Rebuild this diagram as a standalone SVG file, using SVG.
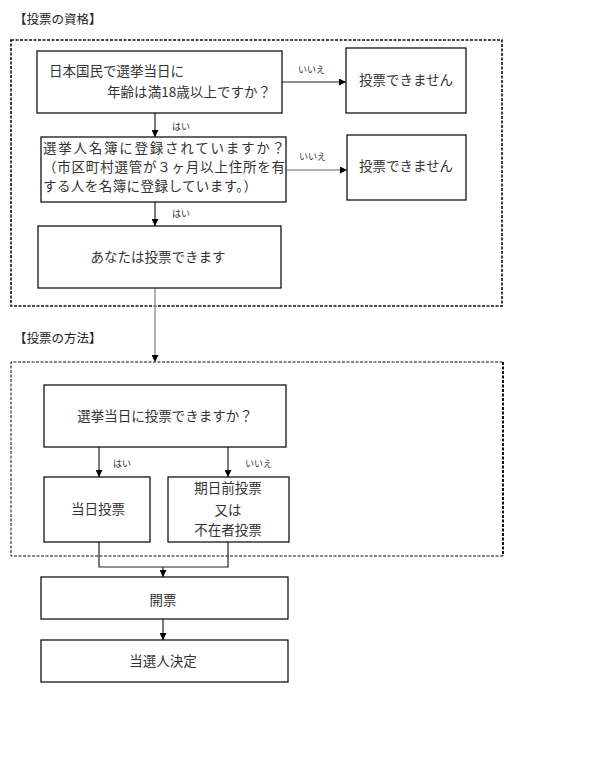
<svg xmlns="http://www.w3.org/2000/svg" width="593" height="769" viewBox="0 0 593 769">
<defs>
<marker id="ah" viewBox="0 0 8 8" refX="8" refY="4" markerWidth="7" markerHeight="7" markerUnits="userSpaceOnUse" orient="auto">
<path d="M0,0 L8,4 L0,8 z" fill="#000"/>
</marker>
<style>
.t{font-family:"Noto Sans CJK JP","Liberation Sans",sans-serif;font-size:13.5px;fill:#333;}
.h{font-family:"Noto Sans CJK JP","Liberation Sans",sans-serif;font-size:12.5px;fill:#222;}
.l{font-family:"Noto Sans CJK JP","Liberation Sans",sans-serif;font-size:9px;fill:#333;}
.b{fill:#fff;stroke:#000;stroke-width:1.2;}
.c{fill:none;stroke:#222;stroke-width:1.2;}
.g{fill:none;stroke:#999;stroke-width:1.5;}
.d{fill:none;stroke:#111;stroke-dasharray:3 1.5;}
</style>
</defs>
<rect width="593" height="769" fill="#fff"/>
<text class="h" x="14" y="24">【投票の資格】</text>
<text class="h" x="14" y="343">【投票の方法】</text>
<g id="frame1"><rect class="d" x="11" y="40" width="491" height="266" stroke-width="1.6"/></g>
<g id="frame2">
<path class="d" d="M503,556 H11 V362 H503" stroke-width="1"/>
<path class="d" d="M503,362 V556" stroke-width="2" stroke-dasharray="2 1"/>
</g>
<g id="connectors">
<line class="c" x1="282" y1="82" x2="346" y2="82" marker-end="url(#ah)"/>
<line class="c" x1="155" y1="113" x2="155" y2="137" marker-end="url(#ah)"/>
<line class="g" x1="286" y1="170" x2="347" y2="170" marker-end="url(#ah)"/>
<line class="c" x1="155" y1="202" x2="155" y2="226" marker-end="url(#ah)"/>
<line class="g" x1="155" y1="288" x2="155" y2="362" marker-end="url(#ah)"/>
<line class="c" x1="99" y1="447" x2="99" y2="477" stroke="#555" marker-end="url(#ah)"/>
<line class="c" x1="228" y1="447" x2="228" y2="477" stroke="#555" marker-end="url(#ah)"/>
<path class="c" d="M99,542 V567 H228 V542"/>
<line class="c" x1="163" y1="567" x2="163" y2="577" marker-end="url(#ah)"/>
<line class="c" x1="163" y1="619" x2="163" y2="640" marker-end="url(#ah)"/>
<text class="l" x="298" y="73">いいえ</text>
<text class="l" x="172" y="130">はい</text>
<text class="l" x="299" y="160">いいえ</text>
<text class="l" x="172" y="217">はい</text>
<text class="l" x="113" y="467">はい</text>
<text class="l" x="245" y="467">いいえ</text>
</g>
<g id="q1">
<rect class="b" x="37" y="51" width="245" height="62"/>
<text class="t" x="49" y="76">日本国民で選挙当日に</text>
<text class="t" x="107" y="97" textLength="164">年齢は満18歳以上ですか？</text>
</g>
<g id="no1">
<rect class="b" x="346" y="48" width="120" height="65"/>
<text class="t" x="406" y="85" text-anchor="middle">投票できません</text>
</g>
<g id="q2">
<rect class="b" x="41" y="137" width="245" height="65"/>
<text class="t" x="43" y="153" textLength="242">選挙人名簿に登録されていますか？</text>
<text class="t" x="43" y="172" textLength="242">（市区町村選管が３ヶ月以上住所を有</text>
<text class="t" x="43" y="191" textLength="214">する人を名簿に登録しています。）</text>
</g>
<g id="no2">
<rect class="b" x="347" y="135" width="119" height="65"/>
<text class="t" x="406" y="171" text-anchor="middle">投票できません</text>
</g>
<g id="ok">
<rect class="b" x="38" y="226" width="243" height="62"/>
<text class="t" x="158" y="262" text-anchor="middle">あなたは投票できます</text>
</g>
<g id="q3">
<rect class="b" x="44" y="385" width="242" height="62"/>
<text class="t" x="165" y="421" text-anchor="middle">選挙当日に投票できますか？</text>
</g>
<g id="same">
<rect class="b" x="44" y="477" width="106" height="65"/>
<text class="t" x="98" y="514" text-anchor="middle">当日投票</text>
</g>
<g id="early">
<rect class="b" x="168" y="477" width="121" height="65"/>
<text class="t" x="228" y="493" text-anchor="middle">期日前投票</text>
<text class="t" x="228" y="515" text-anchor="middle">又は</text>
<text class="t" x="228" y="535" text-anchor="middle">不在者投票</text>
</g>
<g id="count">
<rect class="b" x="41" y="577" width="247" height="42"/>
<text class="t" x="163" y="605" text-anchor="middle">開票</text>
</g>
<g id="elect">
<rect class="b" x="41" y="640" width="247" height="42"/>
<text class="t" x="163" y="666" text-anchor="middle">当選人決定</text>
</g>
</svg>
